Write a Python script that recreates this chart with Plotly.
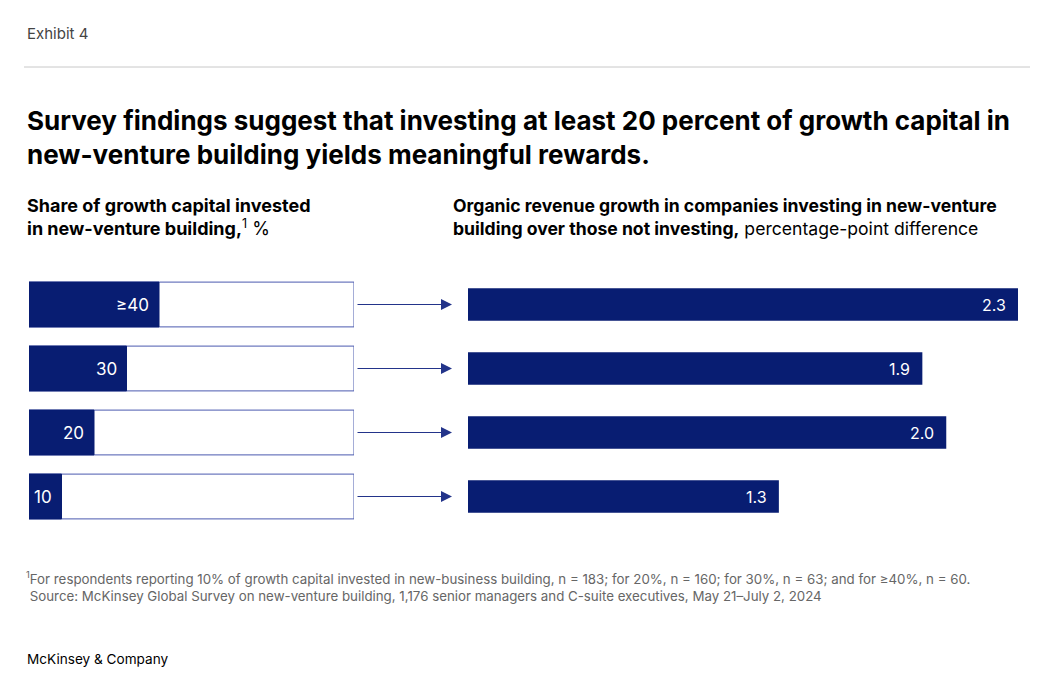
import plotly.graph_objects as go

# =========================
# data
# =========================
SHARE_LABELS = ["≥40", "30", "20", "10"]
SHARE_VALUES = [40, 30, 20, 10]
GROWTH_VALUES = [2.3, 1.9, 2.0, 1.3]
GROWTH_LABELS = ["2.3", "1.9", "2.0", "1.3"]

NAVY = "#081d72"
OUTLINE = "#4a5aaf"
PAGE_OFFSET = 8  # default body margin of the html page
W, H = 1038 - PAGE_OFFSET, 683 - PAGE_OFFSET

ROWS = list(range(len(SHARE_LABELS)))


def px_x(p):
    return (p - PAGE_OFFSET) / W


def px_y(p):
    return 1 - (p - PAGE_OFFSET) / H


fig = go.Figure()

# left: outline box (0-100%) then filled share
fig.add_trace(go.Bar(
    y=ROWS, x=[100] * len(ROWS), orientation="h",
    marker=dict(color="white", line=dict(color=OUTLINE, width=1)),
    width=0.70, xaxis="x", yaxis="y", hoverinfo="skip", showlegend=False,
))
fig.add_trace(go.Bar(
    y=ROWS, x=SHARE_VALUES, orientation="h",
    marker=dict(color=NAVY, line=dict(color=NAVY, width=1)),
    width=0.70, xaxis="x", yaxis="y", showlegend=False,
))

# right: growth difference
fig.add_trace(go.Bar(
    y=ROWS, x=GROWTH_VALUES, orientation="h",
    marker=dict(color=NAVY, line=dict(width=0)),
    width=0.51, xaxis="x2", yaxis="y2", showlegend=False,
))

annotations = []
for r, lab, v in zip(ROWS, SHARE_LABELS, SHARE_VALUES):
    annotations.append(dict(
        x=v, y=r, xref="x", yref="y", text=lab, showarrow=False,
        xanchor="right", xshift=-8,
        font=dict(family="Inter", size=17, color="white"),
    ))
for r, v, t in zip(ROWS, GROWTH_VALUES, GROWTH_LABELS):
    annotations.append(dict(
        x=v, y=r, xref="x2", yref="y2", text=t, showarrow=False,
        xanchor="right", xshift=-10,
        font=dict(family="Inter", size=16, color="white"),
    ))
    # connector arrow
    annotations.append(dict(
        x=px_x(452), y=r, xref="paper", yref="y2", text="",
        showarrow=True, ax=-96, ay=0,
        arrowhead=2, arrowsize=2.2, arrowwidth=1, arrowcolor="#23348a",
    ))

txt = "Inter"
annotations += [
    dict(x=px_x(25), y=px_y(34), text="Exhibit 4", showarrow=False,
         xref="paper", yref="paper", xanchor="left", yanchor="middle",
         font=dict(family=txt, size=15, color="#444")),
    dict(x=px_x(25), y=px_y(137), showarrow=False, xanchor="left", yanchor="middle",
         xref="paper", yref="paper", align="left",
         text="<b>Survey findings suggest that investing at least 20 percent of growth capital in<br>"
              "new-venture building yields meaningful rewards.</b>",
         font=dict(family=txt, size=26, color="#000")),
    dict(x=px_x(25), y=px_y(217), showarrow=False, xanchor="left", yanchor="middle",
         xref="paper", yref="paper", align="left",
         text="<b>Share of growth capital invested<br>in new-venture building,</b><sup>1</sup> %",
         font=dict(family=txt, size=18, color="#000")),
    dict(x=px_x(451), y=px_y(217), showarrow=False, xanchor="left", yanchor="middle",
         xref="paper", yref="paper", align="left",
         text="<b>Organic revenue growth in companies investing in new-venture<br>"
              "building over those not investing,</b> percentage-point difference",
         font=dict(family=txt, size=17.6, color="#000")),
    dict(x=px_x(24), y=px_y(586), showarrow=False, xanchor="left", yanchor="middle",
         xref="paper", yref="paper", align="left",
         text="<sup>1</sup>For respondents reporting 10% of growth capital invested in new-business building, "
              "n = 183; for 20%, n = 160; for 30%, n = 63; and for ≥40%, n = 60.<br>"
              " Source: McKinsey Global Survey on new-venture building, 1,176 senior managers and "
              "C-suite executives, May 21–July 2, 2024",
         font=dict(family=txt, size=13.3, color="#666")),
    dict(x=px_x(25), y=px_y(659), text="McKinsey & Company", showarrow=False,
         xref="paper", yref="paper", xanchor="left", yanchor="middle",
         font=dict(family=txt, size=13.6, color="#000")),
]

fig.update_layout(
    width=W, height=H,
    margin=dict(l=0, r=0, t=0, b=0),
    paper_bgcolor="white", plot_bgcolor="white",
    barmode="overlay",
    xaxis=dict(domain=[px_x(29), px_x(354)], range=[0, 100], visible=False,
               anchor="y", fixedrange=True),
    xaxis2=dict(domain=[px_x(468), px_x(1018)], range=[0, max(GROWTH_VALUES)],
                visible=False, anchor="y2", fixedrange=True),
    yaxis=dict(domain=[px_y(528.5), px_y(272.5)], range=[3.5, -0.5],
               visible=False, anchor="x", fixedrange=True),
    yaxis2=dict(domain=[px_y(528.5), px_y(272.5)], range=[3.5, -0.5],
                visible=False, anchor="x2", fixedrange=True),
    annotations=annotations,
    shapes=[dict(type="line", xref="paper", yref="paper",
                 x0=px_x(24), x1=px_x(1036), y0=px_y(67), y1=px_y(67),
                 line=dict(color="#c8c8c8", width=1))],
)

fig.write_html("out.html")
